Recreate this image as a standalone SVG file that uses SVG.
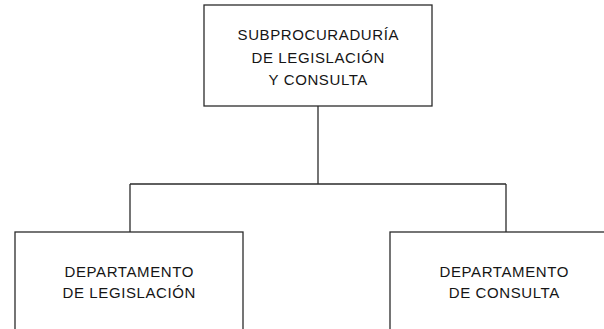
<svg xmlns="http://www.w3.org/2000/svg" width="604" height="329" viewBox="0 0 604 329">
<style>
.box{fill:#fff;stroke:#2b2b2b;stroke-width:1.3}
.t{font-family:"Liberation Sans",Arial,sans-serif;font-size:15px;fill:#151515;text-anchor:middle;letter-spacing:0.6px}
.c{fill:none;stroke:#2b2b2b;stroke-width:1.3}
</style>
<rect width="604" height="329" fill="#fff"/>
<g id="connectors">
<path class="c" d="M318 106 V184 M130 184 H506 M130 184 V232 M506 184 V232"/>
</g>
<g id="top">
<rect class="box" x="204" y="5" width="228" height="101"/>
<text class="t" x="318.3" y="40">SUBPROCURADURÍA</text>
<text class="t" x="318.3" y="62.5">DE LEGISLACIÓN</text>
<text class="t" x="318.3" y="85">Y CONSULTA</text>
</g>
<g id="legislacion">
<rect class="box" x="15" y="232" width="228" height="110"/>
<text class="t" x="129.3" y="277">DEPARTAMENTO</text>
<text class="t" x="129.3" y="298">DE LEGISLACIÓN</text>
</g>
<g id="consulta">
<rect class="box" x="390" y="232" width="228" height="110"/>
<text class="t" x="504.3" y="277">DEPARTAMENTO</text>
<text class="t" x="504.3" y="298">DE CONSULTA</text>
</g>
</svg>
